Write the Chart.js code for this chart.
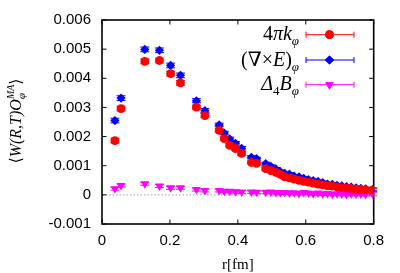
<!DOCTYPE html>
<html>
<head>
<meta charset="utf-8">
<script src="https://cdn.jsdelivr.net/npm/chart.js@4/dist/chart.umd.min.js"></script>
<style>
html,body{margin:0;padding:0;background:#fff;}
#c{display:block;}
</style>
</head>
<body>
<canvas id="c" width="400" height="273"></canvas>
<script>
// ---- data ----
const rValues = [0.038, 0.056, 0.126, 0.169, 0.202, 0.231, 0.278, 0.303, 0.345, 0.36, 0.376, 0.393, 0.411, 0.44, 0.455, 0.482, 0.497, 0.512, 0.525, 0.538, 0.552, 0.566, 0.58, 0.594, 0.608, 0.622, 0.636, 0.65, 0.664, 0.678, 0.692, 0.706, 0.72, 0.734, 0.748, 0.762, 0.776, 0.797];
const kPhi = [0.00186, 0.00296, 0.00458, 0.00461, 0.00416, 0.00384, 0.00301, 0.00272, 0.00221, 0.00193, 0.0017, 0.00159, 0.00142, 0.00111, 0.00108, 0.0009, 0.00083, 0.00077, 0.0007, 0.00062, 0.00058, 0.00054, 0.0005, 0.00046, 0.00044, 0.0004, 0.00037, 0.00034, 0.00031, 0.0003, 0.00027, 0.00025, 0.00023, 0.00022, 0.0002, 0.00019, 0.00017, 0.00016];
const kPhiErr = [0.00008, 0.00008, 0.00008, 0.00008, 0.00008, 0.00008, 0.00007, 0.00007, 0.00006, 0.00006, 0.00006, 0.00006, 0.00006, 0.00005, 0.00005, 0.00005, 0.00005, 0.00005, 0.00005, 0.00005, 0.00005, 0.00005, 0.00005, 0.00005, 0.00005, 0.00005, 0.00005, 0.00005, 0.00005, 0.00005, 0.00005, 0.00005, 0.00005, 0.00005, 0.00005, 0.00005, 0.00005, 0.00005];
const curlE = [0.00255, 0.00332, 0.00499, 0.00496, 0.00444, 0.0041, 0.00323, 0.00289, 0.0024, 0.00212, 0.00192, 0.00177, 0.0016, 0.00129, 0.00124, 0.00107, 0.00098, 0.00089, 0.0008, 0.00074, 0.00071, 0.00064, 0.00062, 0.00057, 0.00052, 0.00049, 0.00046, 0.00042, 0.00037, 0.00036, 0.00033, 0.00031, 0.00028, 0.00027, 0.00024, 0.00022, 0.00021, 0.00019];
const curlEErr = [0.00008, 0.00008, 0.00008, 0.00008, 0.00008, 0.00008, 0.00007, 0.00007, 0.00006, 0.00006, 0.00006, 0.00006, 0.00006, 0.00005, 0.00005, 0.00005, 0.00005, 0.00005, 0.00005, 0.00005, 0.00005, 0.00005, 0.00005, 0.00005, 0.00005, 0.00005, 0.00005, 0.00005, 0.00005, 0.00005, 0.00005, 0.00005, 0.00005, 0.00005, 0.00005, 0.00005, 0.00005, 0.00005];
const deltaB = [0.00021, 0.00032, 0.00038, 0.0003, 0.00024, 0.00024, 0.00018, 0.00015, 0.00015, 0.00012, 0.00012, 0.00011, 0.0001, 0.0001, 0.00009, 0.00009, 0.0001, 0.00008, 0.00007, 0.00008, 0.00006, 0.00007, 0.00005, 0.00008, 0.00006, 0.00004, 0.00006, 0.00003, 0.00005, 0.00002, 0.00004, 0.00003, 0.00001, 0.00004, 0.00002, 0.00003, 0.00001, 0.00002];
const deltaBErr = [0.00005, 0.00005, 0.00005, 0.00005, 0.00005, 0.00005, 0.00005, 0.00005, 0.00005, 0.00005, 0.00005, 0.00005, 0.00005, 0.00005, 0.00005, 0.00005, 0.00005, 0.00005, 0.00005, 0.00005, 0.00005, 0.00005, 0.00005, 0.00005, 0.00005, 0.00005, 0.00005, 0.00005, 0.00005, 0.00005, 0.00005, 0.00005, 0.00005, 0.00005, 0.00005, 0.00005, 0.00005, 0.00005];
const xTickValues = [0, 0.2, 0.4, 0.6, 0.8];
const xTickLabels = ['0', '0.2', '0.4', '0.6', '0.8'];
const yTickValues = [-0.001, 0, 0.001, 0.002, 0.003, 0.004, 0.005, 0.006];
const yTickLabels = ['-0.001', '0', '0.001', '0.002', '0.003', '0.004', '0.005', '0.006'];
const xTitle = 'r[fm]';
const seriesLabels = ['4πkφ', '(∇×E)φ', 'Δ4Bφ'];

// rich-text pieces for labels (text only; styling applied in drawing)
const SERIF = '"Liberation Serif", "DejaVu Serif", serif';
const legendRich = [
  [{t:'4', s:20}, {t:'π', s:20, i:true}, {t:'k', s:20, i:true}, {t:'φ', s:13, i:true, dy:5}],
  [{t:'(∇×', s:20}, {t:'E', s:20, i:true}, {t:')', s:20}, {t:'φ', s:13, i:true, dy:5}],
  [{t:'Δ', s:20, i:true}, {t:'4', s:13, dy:5}, {t:'B', s:20, i:true}, {t:'φ', s:13, i:true, dy:5}]
];
const yTitleRich = [{t:'⟨', s:16}, {t:'W(R,T)O', s:16, i:true}, {stack:[{t:'MA', s:10, i:true, dy:-7}, {t:'φ', s:11, i:true, dy:4}]}, {t:'⟩', s:16}];

function fontOf(p){ return (p.i ? 'italic ' : '') + p.s + 'px ' + SERIF; }
function richWidth(ctx, parts){
  let w = 0;
  for (const p of parts){
    if (p.stack){ let m = 0; for (const q of p.stack){ ctx.font = fontOf(q); m = Math.max(m, ctx.measureText(q.t).width); } w += m; }
    else { ctx.font = fontOf(p); w += ctx.measureText(p.t).width; }
  }
  return w;
}
function drawRich(ctx, parts, x, y){
  let cx = x;
  for (const p of parts){
    if (p.stack){
      let m = 0;
      for (const q of p.stack){ ctx.font = fontOf(q); ctx.fillText(q.t, cx, y + (q.dy||0)); m = Math.max(m, ctx.measureText(q.t).width); }
      cx += m;
    } else {
      ctx.font = fontOf(p); ctx.fillText(p.t, cx, y + (p.dy||0)); cx += ctx.measureText(p.t).width;
    }
  }
}

const colors = ['#ff0000', '#0000ff', '#ff00ff'];

function pts(vals){ return rValues.map((r, i) => ({x: r, y: vals[i]})); }

const errPlugin = {
  id: 'errbars',
  beforeDatasetDraw(chart, args){
    const ds = chart.data.datasets[args.index];
    const errs = ds.errors; if (!errs) return;
    const xs = chart.scales.x, ys = chart.scales.y, ctx = chart.ctx;
    ctx.save();
    ctx.strokeStyle = ds.backgroundColor; ctx.lineWidth = 1;
    ds.data.forEach((p, i) => {
      const px = xs.getPixelForValue(p.x);
      const y1 = ys.getPixelForValue(p.y + errs[i]);
      const y2 = ys.getPixelForValue(p.y - errs[i]);
      const hw = 4.5;
      ctx.beginPath();
      ctx.moveTo(px, y1); ctx.lineTo(px, y2);
      ctx.moveTo(px - hw, y1); ctx.lineTo(px + hw, y1);
      ctx.moveTo(px - hw, y2); ctx.lineTo(px + hw, y2);
      ctx.stroke();
    });
    ctx.restore();
  }
};

const framePlugin = {
  id: 'frame',
  beforeDatasetsDraw(chart){
    const {ctx, chartArea: a} = chart;
    const xs = chart.scales.x, ys = chart.scales.y;
    ctx.save();
    // zero line
    const y0 = ys.getPixelForValue(0);
    ctx.strokeStyle = '#a0a0a0'; ctx.lineWidth = 1; ctx.setLineDash([1.5, 2]);
    ctx.beginPath(); ctx.moveTo(a.left, y0); ctx.lineTo(a.right, y0); ctx.stroke();
    ctx.setLineDash([]);
    // ticks inward on all four sides
    ctx.strokeStyle = '#000'; ctx.lineWidth = 1;
    const tl = 4.5;
    ctx.beginPath();
    xTickValues.forEach(v => {
      const px = xs.getPixelForValue(v);
      ctx.moveTo(px, a.bottom); ctx.lineTo(px, a.bottom - tl);
      ctx.moveTo(px, a.top); ctx.lineTo(px, a.top + tl);
    });
    yTickValues.forEach(v => {
      const py = ys.getPixelForValue(v);
      ctx.moveTo(a.left, py); ctx.lineTo(a.left + tl, py);
      ctx.moveTo(a.right, py); ctx.lineTo(a.right - tl, py);
    });
    ctx.stroke();
    // border
    ctx.lineWidth = 1.6;
    ctx.strokeRect(a.left, a.top, a.right - a.left, a.bottom - a.top);
    ctx.restore();
  },
  afterDraw(chart){
    const ctx = chart.ctx;
    ctx.save();
    ctx.fillStyle = '#000';
    ctx.textBaseline = 'alphabetic';
    // y title, rotated
    ctx.translate(21, 121);
    ctx.rotate(-Math.PI / 2);
    const w = richWidth(ctx, yTitleRich);
    drawRich(ctx, yTitleRich, -w / 2, 0);
    ctx.restore();

    // legend
    const rowsY = [34.7, 60, 84.7];
    const textRight = 299, l0 = 306, l1 = 354, lm = 329.5;
    const ds = chart.data.datasets;
    rowsY.forEach((ry, k) => {
      ctx.save();
      ctx.fillStyle = '#000';
      const tw = richWidth(ctx, legendRich[k]);
      drawRich(ctx, legendRich[k], textRight - tw, ry + 5.5);
      ctx.strokeStyle = colors[k]; ctx.lineWidth = 1;
      ctx.beginPath();
      ctx.moveTo(l0, ry); ctx.lineTo(l1, ry);
      ctx.moveTo(l0, ry - 3); ctx.lineTo(l0, ry + 3);
      ctx.moveTo(l1, ry - 3); ctx.lineTo(l1, ry + 3);
      ctx.stroke();
      ctx.fillStyle = colors[k];
      Chart.helpers.drawPoint(ctx, {pointStyle: ds[k].pointStyle, rotation: ds[k].pointRotation || 0, radius: ds[k].pointRadius, borderWidth: 0}, lm, ry);
      ctx.fill();
      ctx.restore();
    });
  }
};

new Chart(document.getElementById('c'), {
  type: 'scatter',
  data: {
    datasets: [
      {label: seriesLabels[0], data: pts(kPhi), errors: kPhiErr, backgroundColor: colors[0], borderColor: colors[0], borderWidth: 0, pointStyle: 'circle', pointRadius: 4.4, pointHoverRadius: 4.4},
      {label: seriesLabels[1], data: pts(curlE), errors: curlEErr, backgroundColor: colors[1], borderColor: colors[1], borderWidth: 0, pointStyle: 'rectRot', pointRadius: 4.6, pointHoverRadius: 4.6},
      {label: seriesLabels[2], data: pts(deltaB), errors: deltaBErr, backgroundColor: colors[2], borderColor: colors[2], borderWidth: 0, pointStyle: 'triangle', pointRotation: 180, pointRadius: 5, pointHoverRadius: 5}
    ]
  },
  options: {
    responsive: false,
    devicePixelRatio: 1,
    animation: false,
    layout: {padding: {top: 20, right: 26.3, bottom: 0, left: 0}},
    plugins: {legend: {display: false}, tooltip: {enabled: false}},
    scales: {
      x: {
        type: 'linear', min: 0, max: 0.8,
        afterBuildTicks: s => { s.ticks = xTickValues.map(v => ({value: v})); },
        afterFit: s => { s.height = 49; },
        ticks: {callback: (v, i) => xTickLabels[i], font: {family: '"Liberation Sans", Arial, sans-serif', size: 15}, color: '#000', padding: 8, maxRotation: 0, autoSkip: false},
        grid: {display: false, drawTicks: false, tickLength: 0},
        border: {display: false},
        title: {display: true, text: xTitle, color: '#000', font: {family: SERIF, size: 15, lineHeight: 1}, padding: 0}
      },
      y: {
        type: 'linear', min: -0.001, max: 0.006,
        afterBuildTicks: s => { s.ticks = yTickValues.map(v => ({value: v})); },
        afterFit: s => { s.width = 102; },
        ticks: {callback: (v, i) => yTickLabels[i], font: {family: '"Liberation Sans", Arial, sans-serif', size: 15}, color: '#000', padding: 11, autoSkip: false},
        grid: {display: false, drawTicks: false, tickLength: 0},
        border: {display: false}
      }
    }
  },
  plugins: [errPlugin, framePlugin]
});
</script>
</body>
</html>
